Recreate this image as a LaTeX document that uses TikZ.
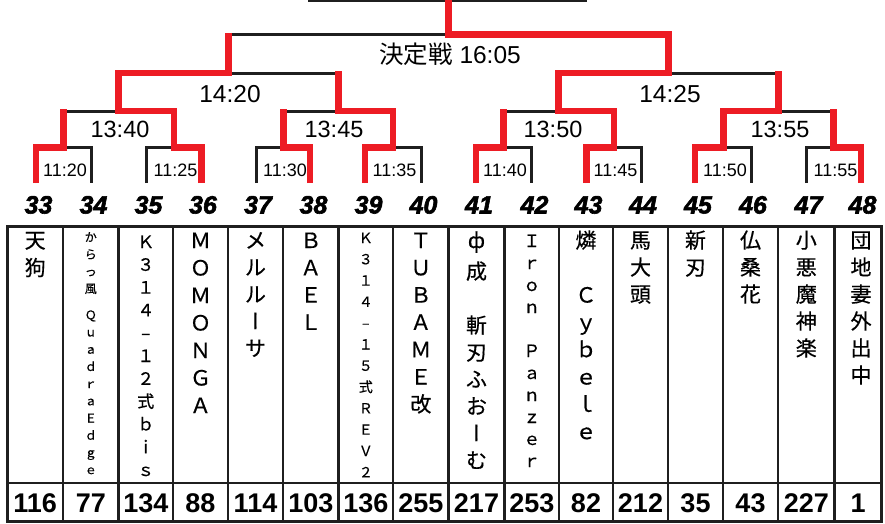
\documentclass[tikz,border=0pt]{standalone}
\usepackage{fontspec}
\setmainfont{Liberation Sans}
\newfontfamily\jp[FakeBold=0.5]{Noto Sans CJK JP}
\newfontfamily\jpr{Noto Sans CJK JP}
\newfontfamily\jpv[RawFeature=+vert,FakeBold=0.5]{Noto Sans CJK JP}
\newfontfamily\hdrf[FakeBold=2.4]{Liberation Sans}
\definecolor{wred}{RGB}{237,28,36}
\makeatletter
\def\stk#1{\stk@a#1\relax}
\def\stk@a#1{\ifx\relax#1\else\hbox to 0pt{\hss#1\hss}\expandafter\stk@a\fi}
\makeatother
\newcommand\vst[3]{\vtop{\fontsize{#1}{#2}\selectfont\lineskiplimit=-1000pt\relax #3}}
\tikzset{
  bk/.style={line width=3pt,black!88},
  rd/.style={line width=6.8pt,wred,line join=miter},
  rdl/.style={rd,shorten >=-1.8pt},
  grid/.style={line width=2.6pt,black!88},
  nm/.style={anchor=base,inner sep=0pt,font=\jp},
  hdr/.style={anchor=base,inner sep=0pt,font=\hdrf\fontsize{25}{25}\selectfont\bfseries\itshape},
  sc/.style={anchor=base,inner sep=0pt,font=\fontsize{27}{27}\selectfont\bfseries},
  t1/.style={anchor=base,inner sep=0pt,font=\fontsize{18}{18}\selectfont},
  t2/.style={anchor=base,inner sep=0pt,font=\fontsize{23.5}{24}\selectfont},
  t3/.style={anchor=base,inner sep=0pt,font=\fontsize{24.5}{25}\selectfont},
}
\begin{document}
\begin{tikzpicture}[x=1pt,y=-1pt]
\useasboundingbox (0,0) rectangle (885,523);
% ---------- table grid ----------
\draw[grid,line width=3pt] (7.3,226) rectangle (881.5,521.5);
\draw[grid] (7.3,483) -- (881.5,483);
\foreach \x in {63,118.5,173,228,283,338.5,393,448.5,504.5,559,613,668,723,778,834.5}
  \draw[grid] (\x,226) -- (\x,521.5);
% ---------- header numbers ----------
\foreach \n/\x in {33/38.5,34/93.5,35/148.5,36/203,37/258,38/313.5,39/368.5,40/423.5,41/479,42/534.5,43/588.5,44/643,45/698,46/753,47/808.5,48/862.5}
  \node[hdr] (h\n) at (\x,213.5) {\n};
% ---------- scores ----------
\foreach \n/\x/\s in {33/35.2/116,34/90.8/77,35/145.8/134,36/200.5/88,37/255.5/114,38/310.8/103,39/365.8/136,40/420.8/255,41/476.5/217,42/531.8/253,43/586/82,44/640.5/212,45/695.5/35,46/750.5/43,47/806.3/227,48/858/1}
  \node[sc] (s\n) at (\x,512) {\s};
% ---------- names ----------
\node[nm] (n33) at (35.2,248) {\vst{21}{27.5}{\stk{天狗}}};
\node[nm] (n34) at (90.8,241.5) {\vst{12}{17.2}{\stk{からっ風}\vskip9pt\stk{ＱｕａｄｒａＥｄｇｅ}}};
\node[nm] (n35) at (145.8,248) {\vst{17}{22.8}{\stk{Ｋ３１４–１２式ｂｉｓ}}};
\node[nm] (n36) at (200.5,248) {\vst{21}{27.5}{\stk{ＭＯＭＯＮＧＡ}}};
\node[nm] (n37) at (255.5,248) {\vst{21}{27}{\stk{メルル{\jpv ー}サ}}};
\node[nm] (n38) at (310.8,248) {\vst{21}{27.3}{\stk{ＢＡＥＬ}}};
\node[nm] (n39) at (365.8,243) {\vst{14}{21.3}{\stk{Ｋ３１４–１５式ＲＥＶ２}}};
\node[nm] (n40) at (420.8,248) {\vst{21}{27.3}{\stk{ＴＵＢＡＭＥ改}}};
\node[nm] (n41) at (476.5,248) {\vst{21}{27}{\stk{ф}\vskip4pt\stk{成　斬刃ふお{\jpv ー}む}}};
\node[nm] (n42) at (531.8,247) {\vst{17}{22}{\stk{Ｉｒｏｎ　Ｐａｎｚｅｒ}}};
\node[nm] (n43) at (586,248) {\vst{21}{27.3}{\stk{燐　Ｃｙｂｅｌｅ}}};
\node[nm] (n44) at (640.5,248) {\vst{21}{27}{\stk{馬大頭}}};
\node[nm] (n45) at (695.5,248) {\vst{21}{27}{\stk{新刃}}};
\node[nm] (n46) at (750.5,248) {\vst{21}{27}{\stk{仏桑花}}};
\node[nm] (n47) at (806.3,248) {\vst{21}{27}{\stk{小悪魔神楽}}};
\node[nm] (n48) at (861,248) {\vst{21}{27}{\stk{団地妻外出中}}};
% ---------- bracket coordinates ----------
\coordinate (p33) at (36,183);   \coordinate (p34) at (91,183);
\coordinate (p35) at (146.5,183);\coordinate (p36) at (201.5,183);
\coordinate (p37) at (256.5,183);\coordinate (p38) at (310,183);
\coordinate (p39) at (365,183);  \coordinate (p40) at (421,183);
\coordinate (p41) at (476,183);  \coordinate (p42) at (531,183);
\coordinate (p43) at (586.5,183);\coordinate (p44) at (641.5,183);
\coordinate (p45) at (695,183);  \coordinate (p46) at (751.5,183);
\coordinate (p47) at (806.5,183);\coordinate (p48) at (861,183);
\coordinate (a1) at (63.5,147.5); \coordinate (a2) at (174,147.5);
\coordinate (a3) at (283.3,147.5);\coordinate (a4) at (393,147.5);
\coordinate (a5) at (503.5,147.5);\coordinate (a6) at (614,147.5);
\coordinate (a7) at (723.3,147.5);\coordinate (a8) at (833.7,147.5);
\coordinate (b1) at (118.7,111); \coordinate (b2) at (338.2,111);
\coordinate (b3) at (558.8,111); \coordinate (b4) at (778.5,111);
\coordinate (c1) at (228.5,73);  \coordinate (c2) at (668.6,73);
\coordinate (f) at (448.5,34.5);
\coordinate (t) at (448.5,-6);
\coordinate (tl) at (308,0.3);   \coordinate (tr) at (587,0.3);
% ---------- black bracket ----------
\draw[bk] (p33) |- (a1) -| (p34);
\draw[bk] (p35) |- (a2) -| (p36);
\draw[bk] (p37) |- (a3) -| (p38);
\draw[bk] (p39) |- (a4) -| (p40);
\draw[bk] (p41) |- (a5) -| (p42);
\draw[bk] (p43) |- (a6) -| (p44);
\draw[bk] (p45) |- (a7) -| (p46);
\draw[bk] (p47) |- (a8) -| (p48);
\draw[bk] (a1) |- (b1) -| (a2);
\draw[bk] (a3) |- (b2) -| (a4);
\draw[bk] (a5) |- (b3) -| (a6);
\draw[bk] (a7) |- (b4) -| (a8);
\draw[bk] (b1) |- (c1) -| (b2);
\draw[bk] (b3) |- (c2) -| (b4);
\draw[bk] (c1) |- (f) -| (c2);
\draw[bk] (tl) -- (tr);
% ---------- red winner paths ----------
\draw[rdl] (p33) |- (a1) -- (a1 |- b1);
\draw[rdl] (p36) |- (a2) |- (b1) |- (c1) -- (c1 |- f);
\draw[rdl] (p38) |- (a3) -- (a3 |- b2);
\draw[rdl] (p39) |- (a4) |- (b2) -- (b2 |- c1);
\draw[rdl] (p41) |- (a5) -- (a5 |- b3);
\draw[rd]  (p43) |- (a6) |- (b3) |- (c2) |- (f) -- (t);
\draw[rdl] (p45) |- (a7) |- (b4) -- (b4 |- c2);
\draw[rdl] (p48) |- (a8) -- (a8 |- b4);
% ---------- times ----------
\node[t1] (l11) at (65,176) {11:20};
\node[t1] (l12) at (175.5,176) {11:25};
\node[t1] (l13) at (285,176) {11:30};
\node[t1] (l14) at (394.5,176) {11:35};
\node[t1] (l15) at (505,176) {11:40};
\node[t1] (l16) at (615.5,176) {11:45};
\node[t1] (l17) at (725,176) {11:50};
\node[t1] (l18) at (835.5,176) {11:55};
\node[t2] (l21) at (120,137) {13:40};
\node[t2] (l22) at (334,137) {13:45};
\node[t2] (l23) at (553,137) {13:50};
\node[t2] (l24) at (780,137) {13:55};
\node[t3] (l31) at (230,102) {14:20};
\node[t3] (l32) at (670,102) {14:25};
\node[t3] (lf) at (450,63) {{\jpr 決定戦} 16:05};
\end{tikzpicture}
\end{document}
